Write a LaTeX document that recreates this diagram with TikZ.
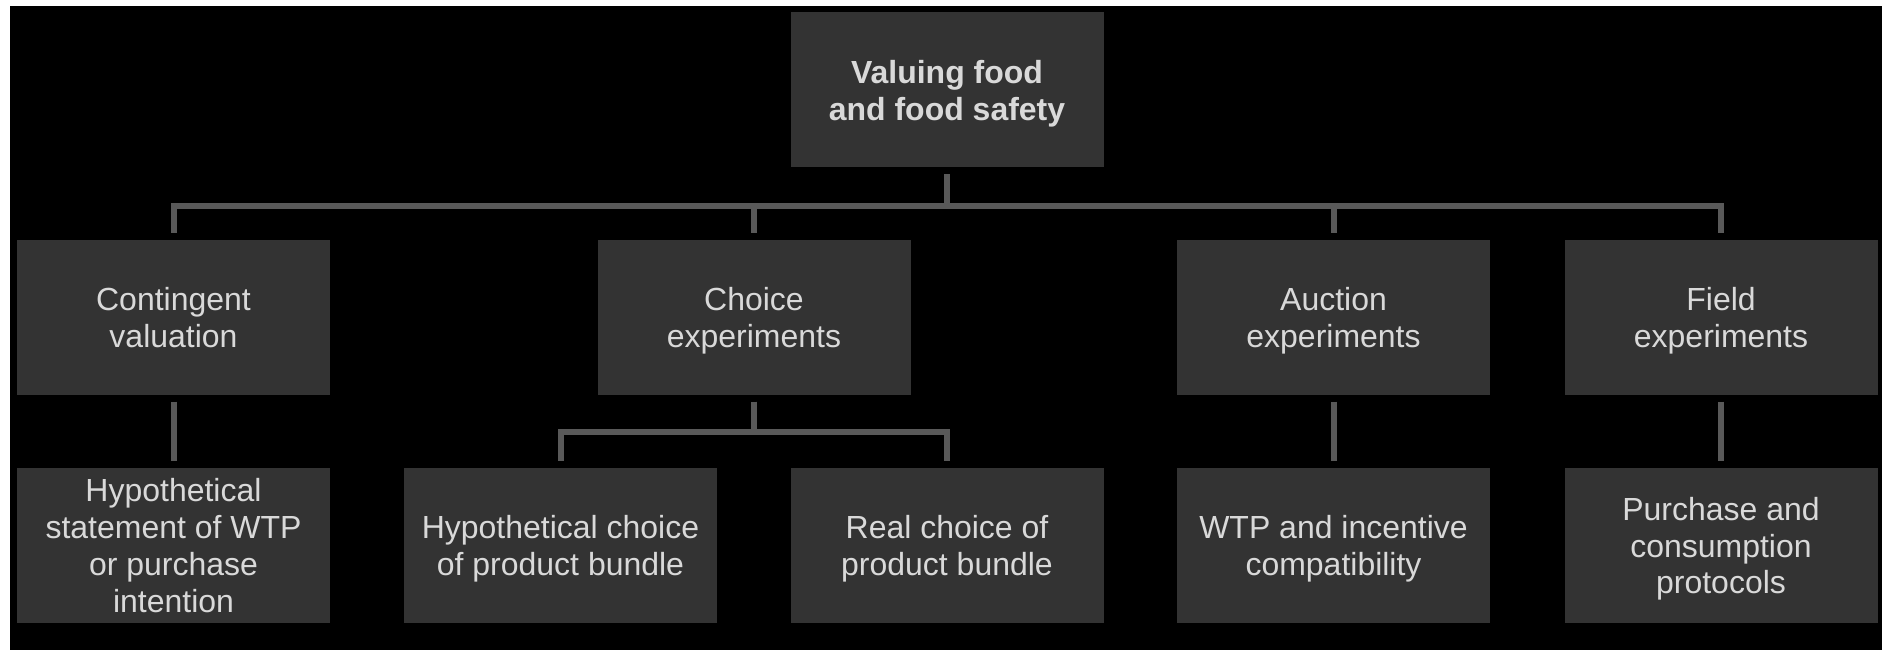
\documentclass[tikz,border=0pt]{standalone}
\usepackage{fontspec}
\setmainfont{Liberation Sans}
\usepackage{xcolor}
\usepackage{tikz}
\usetikzlibrary{calc}
\definecolor{vfbox}{RGB}{51,51,51}
\definecolor{vfline}{RGB}{89,89,89}
\definecolor{vftext}{RGB}{217,217,217}

\begin{document}
\begin{tikzpicture}[
    box/.style={fill=vfbox, text=vftext, minimum width=3.13cm, minimum height=1.55cm,
        inner sep=0pt, align=center, text depth=0pt, font=\fontsize{9.1}{10.5}\selectfont},
    rootbox/.style={box, font=\fontsize{9.1}{10.5}\selectfont\bfseries},
    link/.style={draw=vfline, line width=0.06cm, shorten <=0.06cm, shorten >=0.06cm}
]
    % Background
    \fill[white] (0,0) rectangle (18.82,6.5);
    \fill[black] (0.1,0) rectangle (18.82,6.44);

    % Root
    \node[rootbox] (valuing) at (9.47,5.60) {Valuing food\\and food safety};

    % Methods
    \node[box] (contingent) at (1.735,3.325) {Contingent\\valuation};
    \node[box] (choice) at (7.54,3.325) {Choice\\experiments};
    \node[box] (auction) at (13.335,3.325) {Auction\\experiments};
    \node[box] (field) at (17.21,3.325) {Field\\experiments};

    % What each method measures
    \node[box] (hypwtp) at (1.735,1.045) {Hypothetical\\statement of WTP\\or purchase\\intention};
    \node[box] (hypchoice) at (5.605,1.045) {Hypothetical choice\\of product bundle};
    \node[box] (realchoice) at (9.47,1.045) {Real choice of\\product bundle};
    \node[box] (wtpinc) at (13.335,1.045) {WTP and incentive\\compatibility};
    \node[box] (purchase) at (17.21,1.045) {Purchase and\\consumption\\protocols};

    % Tree links
    \foreach \m in {contingent,choice,auction,field}
        \draw[link] (valuing.south) -- ++(0,-0.375) -| (\m.north);
    \draw[link] (contingent) -- (hypwtp);
    \draw[link] (choice.south) -- ++(0,-0.36) -| (hypchoice.north);
    \draw[link] (choice.south) -- ++(0,-0.36) -| (realchoice.north);
    \draw[link] (auction) -- (wtpinc);
    \draw[link] (field) -- (purchase);
\end{tikzpicture}
\end{document}
